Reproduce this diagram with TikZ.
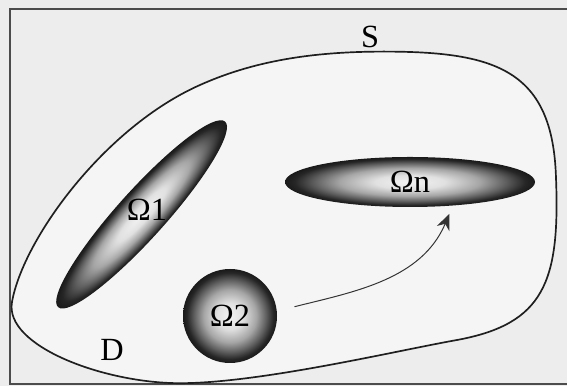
\documentclass[tikz,border=0pt]{standalone}
\usepackage{fontspec}
\setmainfont{Liberation Serif}
\usepackage{tikz}
\usetikzlibrary{arrows.meta,positioning,shapes.geometric}
\pgfdeclareradialshading{omshade}{\pgfpoint{0bp}{0bp}}{%
  color(0bp)=(black!5); color(7bp)=(black!12); color(14bp)=(black!35);
  color(19bp)=(black!62); color(23bp)=(black!85); color(25bp)=(black!90); color(50bp)=(black!90)}
\tikzset{
  dom/region/.style={shade, shading=omshade, inner sep=0pt, font=\fontsize{23}{27}\selectfont},
  dom/boundary/.style={line width=1.2pt, black!88},
  dom/frame/.style={line width=0.8pt, black!70},
  dom/label/.style={font=\fontsize{23}{27}\selectfont, inner sep=1pt},
  dom/arr/.style={-{Stealth[length=4mm,width=3.4mm,inset=1.3mm]}, line width=0.7pt, black!80}
}

\begin{document}
\begin{tikzpicture}[x=1cm,y=1cm]

\useasboundingbox[fill=black!7] (0,0) rectangle (14.175,9.65);

\draw[dom/frame] (14.175,9.425) -| (0.25,0.05) -- (14.175,0.05);

\draw[dom/boundary, fill=black!4] (0.3,2.1)
  .. controls (0.58,3.68) and (2.62,6.47) .. (5.0,7.525)
  .. controls (6.46,8.18) and (8.0,8.36) .. (9.6,8.36)
  .. controls (12.4,8.36) and (13.82,7.9) .. (13.9,5.2)
  .. controls (14.0,2.6) and (13.6,1.55) .. (11.425,1.15)
  .. controls (9.9,0.88) and (6.5,0.07) .. (4.5,0.07)
  .. controls (2.6,0.07) and (0.1,1.0) .. cycle;

\begin{scope}[transform canvas={shift={(3.54,4.29)},rotate=48}]
  \shade[shading=omshade] (0,0) ellipse (3.12 and 0.6);
\end{scope}

\node[dom/label] (om1) at (3.675,4.4) {Ω1};
\node[dom/region, circle, minimum size=2.35cm] (om2) at (5.75,1.75) {Ω2};
\node[dom/region, ellipse, minimum width=6.25cm, minimum height=1.25cm] (omn) at (10.25,5.1) {Ωn};

\node[dom/label] (s) at (9.25,8.72) {S};
\node[dom/label] (d) at (2.8,0.9) {D};

\draw[dom/arr, shorten <=0.45cm, shorten >=0.22cm] (om2.6) to[out=14,in=-113] (omn.-29);

\end{tikzpicture}
\end{document}
